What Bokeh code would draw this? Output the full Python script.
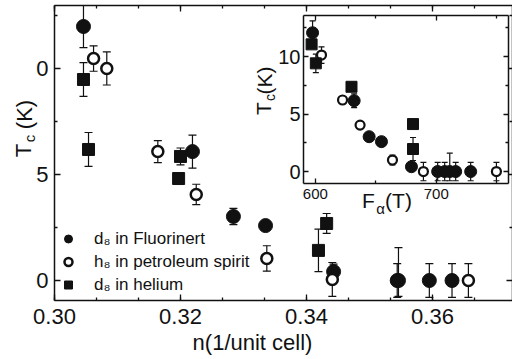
import numpy as np
from bokeh.plotting import figure
from bokeh.models import (ColumnDataSource, Whisker, TeeHead, FixedTicker, LinearAxis,
                          Legend, LegendItem, NumeralTickFormatter, Range1d)
from bokeh.core.properties import value
from bokeh.embed import file_html
from bokeh.resources import INLINE

# ---------------- main panel data: Tc vs n ----------------
fl_n = [0.3046, 0.3219, 0.3284, 0.3335, 0.3443, 0.3544, 0.3546, 0.3595, 0.3631]
fl_tc = [11.98, 6.08, 3.02, 2.59, 0.42, 0.0, 0.0, 0.0, 0.0]
fl_up = [1.0, 0.78, 0.38, 0.0, 0.35, 0.8, 1.55, 0.8, 0.8]
fl_lo = [1.0, 0.78, 0.38, 0.0, 0.35, 0.8, 0.75, 0.8, 0.8]

pe_n = [0.3062, 0.3083, 0.3164, 0.3225, 0.3337, 0.3441, 0.3657]
pe_tc = [10.47, 10.0, 6.08, 4.06, 1.04, 0.05, 0.0]
pe_err = [0.6, 0.78, 0.52, 0.48, 0.6, 0.8, 0.8]

he_n = [0.3046, 0.3054, 0.3200, 0.3197, 0.3419, 0.3432]
he_tc = [9.48, 6.18, 5.85, 4.81, 1.42, 2.69]
he_err = [0.8, 0.8, 0.4, 0.0, 1.0, 0.47]

# ---------------- inset data: Tc vs F_alpha ----------------
fl_F = [597.7, 632.1, 644.5, 654.7, 679.5, 701.2, 707.0, 711.2, 716.1, 728.5]
fl_Ftc = [12.07, 6.16, 3.03, 2.6, 0.42, 0.0, 0.0, 0.0, 0.0, 0.0]
fl_Fup = [1.04, 0.6, 0.0, 0.0, 0.0, 0.8, 0.8, 1.6, 0.8, 0.8]
fl_Flo = [1.04, 0.6, 0.0, 0.0, 0.0, 0.8, 0.8, 0.8, 0.8, 0.8]

pe_F = [605.1, 622.5, 637.0, 663.8, 689.4, 749.8]
pe_Ftc = [10.13, 6.22, 4.04, 1.0, 0.0, 0.0]
pe_Ferr = [0.72, 0.0, 0.0, 0.43, 0.8, 0.8]

he_F = [596.9, 600.4, 629.9, 680.8, 680.8]
he_Ftc = [11.06, 9.41, 7.37, 4.13, 1.96]
he_Ferr = [0.0, 0.8, 0.0, 0.0, 1.0]

# tick definitions
main_xticks = [0.30, 0.32, 0.34, 0.36]
main_xminor = [0.30 + k * 0.02 / 3 for k in range(0, 13)]
main_yticks = [0, 5, 10]
main_yminor = [2.5, 7.5, 12.5]
ins_xticks = [600, 700]
ins_xminor = [650, 750]
ins_yticks = [0, 5, 10]
ins_yminor = [2.5, 7.5, 12.5]

FONT = "Liberation Sans"
INK = "#111111"


def add_err(fig, x, y, up, lo, head):
    xs, ups, los = [], [], []
    for xi, yi, u, l in zip(x, y, up, lo):
        if u > 0 or l > 0:
            xs.append(xi)
            ups.append(yi + u)
            los.append(yi - l)
    src = ColumnDataSource(dict(x=xs, upper=ups, lower=los))
    w = Whisker(source=src, base="x", upper="upper", lower="lower", dimension="height",
                line_color=INK, line_width=1.2,
                upper_head=TeeHead(size=head, line_color=INK, line_width=1.2),
                lower_head=TeeHead(size=head, line_color=INK, line_width=1.2))
    fig.add_layout(w)


def style_axis(ax, ticks, minor, font_size, standoff, labels=True, tin=6, mtin=3):
    ax.ticker = FixedTicker(ticks=ticks, minor_ticks=minor)
    ax.major_tick_in = tin
    ax.major_tick_out = 0
    ax.minor_tick_in = mtin
    ax.minor_tick_out = 0
    ax.axis_line_width = 1.5
    ax.axis_line_color = INK
    ax.major_tick_line_color = INK
    ax.minor_tick_line_color = INK
    ax.major_tick_line_width = 1.3
    ax.minor_tick_line_width = 1.3
    ax.major_label_text_font = FONT
    if labels:
        ax.major_label_text_color = INK
        ax.major_label_text_font_size = font_size
        ax.major_label_standoff = standoff
    else:
        # tick marks only: labels are not painted
        ax.major_label_text_color = None
        ax.major_label_text_font_size = "1px"
        ax.major_label_standoff = 0


# ---------------- main figure ----------------
p = figure(width=512, height=359, x_range=Range1d(0.30, 0.3727), y_range=Range1d(-0.943, 12.97),
           output_backend="svg", toolbar_location=None,
           min_border_left=54, min_border_right=0, min_border_top=5, min_border_bottom=59)
p.grid.visible = False
p.outline_line_color = None
p.background_fill_color = "white"
p.border_fill_color = "white"
p.add_layout(LinearAxis(), "above")
p.add_layout(LinearAxis(), "right")

xb, xt = p.below[0], p.above[0]
yl, yr = p.left[0], p.right[0]
style_axis(xb, main_xticks, main_xminor, "22px", 8)
xb.formatter = NumeralTickFormatter(format="0.00")
style_axis(xt, main_xticks, main_xminor, "0px", 0, labels=False)
style_axis(yl, main_yticks, main_yminor, "22px", 6)
yl.major_label_overrides = {10: "0"}
style_axis(yr, main_yticks, main_yminor, "0px", 0, labels=False)

add_err(p, fl_n, fl_tc, fl_up, fl_lo, 8)
add_err(p, pe_n, pe_tc, pe_err, pe_err, 8)
add_err(p, he_n, he_tc, he_err, he_err, 8)

r_fl = p.scatter(fl_n, fl_tc, marker="circle", size=14, fill_color=INK, line_color=INK)
r_pe = p.scatter(pe_n, pe_tc, marker="circle", size=11, fill_color="white", line_color=INK, line_width=2.5)
r_he = p.scatter(he_n, he_tc, marker="square", size=12, fill_color=INK, line_color=INK)

legend = Legend(items=[LegendItem(label="d\u2088 in Fluorinert", renderers=[r_fl]),
                       LegendItem(label="h\u2088 in petroleum spirit", renderers=[r_pe]),
                       LegendItem(label="d\u2088 in helium", renderers=[r_he])],
                location=(4, 4), padding=0, margin=0, spacing=0,
                glyph_width=20, glyph_height=23, label_height=23, label_standoff=16,
                label_text_font=FONT, label_text_font_size="17px", label_text_color=INK,
                border_line_color=None, background_fill_alpha=0)
p.add_layout(legend)

# ---------------- inset figure ----------------
q = figure(width=272, height=225, x_range=Range1d(590.2, 759.8), y_range=Range1d(-1.04, 13.57),
           output_backend="svg", toolbar_location=None,
           min_border_left=63, min_border_right=4, min_border_top=10, min_border_bottom=47)
q.grid.visible = False
q.outline_line_color = None
q.background_fill_color = "white"
q.border_fill_alpha = 0
q.add_layout(LinearAxis(), "above")
q.add_layout(LinearAxis(), "right")
qb, qt = q.below[0], q.above[0]
ql, qr = q.left[0], q.right[0]
style_axis(qb, ins_xticks, ins_xminor, "15px", 5, tin=5, mtin=3)
style_axis(qt, ins_xticks, ins_xminor, "0px", 0, labels=False, tin=5, mtin=3)
style_axis(ql, ins_yticks, ins_yminor, "20px", 3, tin=5, mtin=3)
style_axis(qr, ins_yticks, ins_yminor, "0px", 0, labels=False, tin=5, mtin=3)

add_err(q, fl_F, fl_Ftc, fl_Fup, fl_Flo, 6)
add_err(q, pe_F, pe_Ftc, pe_Ferr, pe_Ferr, 6)
add_err(q, he_F, he_Ftc, he_Ferr, he_Ferr, 6)
q.scatter(fl_F, fl_Ftc, marker="circle", size=12, fill_color=INK, line_color=INK)
q.scatter(pe_F, pe_Ftc, marker="circle", size=9, fill_color="white", line_color=INK, line_width=2.2)
q.scatter(he_F, he_Ftc, marker="square", size=11, fill_color=INK, line_color=INK)
q.styles = {"position": "absolute", "left": "240px", "top": "5px"}

# ---------------- text overlay (axis titles with subscripts), page pixel coords ----------------
t = figure(width=512, height=359, x_range=Range1d(0, 512), y_range=Range1d(359, 0),
           output_backend="svg", toolbar_location=None, x_axis_location=None, y_axis_location=None,
           min_border=0)
t.grid.visible = False
t.outline_line_color = None
t.background_fill_alpha = 0
t.border_fill_alpha = 0
t.styles = {"position": "absolute", "left": "0px", "top": "0px", "pointer-events": "none"}

title_x = [252, 368, 398]
title_y = [342, 200, 200]
title_t = ["n(1/unit cell)", "F", "(T)"]
title_s = ["22px", "21px", "21px"]
vert_x = [23, 23.5, 263, 263.5]
vert_y = [150, 114, 108, 80]
vert_t = ["T", "(K)", "T", "(K)"]
vert_s = ["22px", "22px", "21px", "21px"]
sub_x = [29, 269, 380]
sub_y = [138, 97, 208]
sub_t = ["c", "c", "\u03b1"]
sub_a = [np.pi / 2, np.pi / 2, 0.0]
sub_s = ["15px", "14px", "15px"]

t.text(x=title_x, y=title_y, text=title_t, text_font=value(FONT), text_font_size=title_s,
       text_color=INK, text_align="center", text_baseline="middle")
t.text(x=vert_x, y=vert_y, text=vert_t, text_font=value(FONT), text_font_size=vert_s,
       text_color=INK, text_align="center", text_baseline="middle", angle=np.pi / 2)
t.text(x=sub_x, y=sub_y, text=sub_t, text_font=value(FONT), text_font_size=sub_s,
       text_color=INK, text_align="center", text_baseline="middle", angle=sub_a)

open("out.html", "w").write(file_html([p, q, t], INLINE))
